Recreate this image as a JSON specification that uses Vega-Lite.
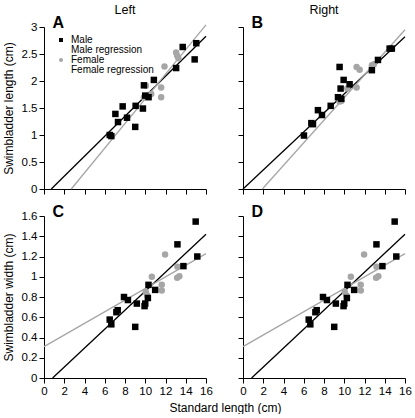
{
"$schema":"https://vega.github.io/schema/vega-lite/v6.json",
"padding":{"left":2,"top":3,"right":0,"bottom":0},
"config":{"font":"Liberation Sans","view":{"stroke":null},
 "axis":{"grid":false,"domainColor":"black","tickColor":"black","labelColor":"black","titleColor":"black","labelFontSize":11.5,"titleFontSize":12,"titleFontWeight":"normal","tickSize":5,"labelPadding":2,"titlePadding":6,"labelFlush":false,"labelOverlap":false,"labelFont":"Liberation Sans","titleFont":"Liberation Sans"},
 "title":{"fontSize":12.5,"fontWeight":"normal","font":"Liberation Sans","color":"black","offset":-2}},
"datasets":{
 "points":[
  {"panel":"A","sex":"Female","sl":9.87,"val":1.70},{"panel":"A","sex":"Female","sl":10.06,"val":1.91},{"panel":"A","sex":"Female","sl":10.59,"val":1.76},{"panel":"A","sex":"Female","sl":11.57,"val":1.88},{"panel":"A","sex":"Female","sl":11.57,"val":1.70},{"panel":"A","sex":"Female","sl":11.9,"val":2.27},{"panel":"A","sex":"Female","sl":13.05,"val":2.53},{"panel":"A","sex":"Female","sl":13.15,"val":2.47},{"panel":"A","sex":"Female","sl":13.27,"val":2.42},
  {"panel":"A","sex":"Male","sl":6.49,"val":1.00},{"panel":"A","sex":"Male","sl":6.65,"val":0.98},{"panel":"A","sex":"Male","sl":7.05,"val":1.39},{"panel":"A","sex":"Male","sl":7.31,"val":1.24},{"panel":"A","sex":"Male","sl":7.77,"val":1.53},{"panel":"A","sex":"Male","sl":8.2,"val":1.32},{"panel":"A","sex":"Male","sl":9.01,"val":1.15},{"panel":"A","sex":"Male","sl":9.05,"val":1.54},{"panel":"A","sex":"Male","sl":9.77,"val":1.49},{"panel":"A","sex":"Male","sl":9.87,"val":1.92},{"panel":"A","sex":"Male","sl":10.0,"val":1.73},{"panel":"A","sex":"Male","sl":10.33,"val":1.70},{"panel":"A","sex":"Male","sl":10.85,"val":2.02},{"panel":"A","sex":"Male","sl":13.05,"val":2.24},{"panel":"A","sex":"Male","sl":13.7,"val":2.63},{"panel":"A","sex":"Male","sl":14.88,"val":2.40},{"panel":"A","sex":"Male","sl":15.04,"val":2.70},
  {"panel":"B","sex":"Female","sl":9.54,"val":1.62},{"panel":"B","sex":"Female","sl":9.71,"val":1.63},{"panel":"B","sex":"Female","sl":10.3,"val":1.86},{"panel":"B","sex":"Female","sl":11.22,"val":2.26},{"panel":"B","sex":"Female","sl":11.52,"val":2.21},{"panel":"B","sex":"Female","sl":11.22,"val":1.88},{"panel":"B","sex":"Female","sl":12.73,"val":2.29},{"panel":"B","sex":"Female","sl":12.93,"val":2.31},
  {"panel":"B","sex":"Male","sl":6.02,"val":0.99},{"panel":"B","sex":"Male","sl":6.75,"val":1.22},{"panel":"B","sex":"Male","sl":6.91,"val":1.20},{"panel":"B","sex":"Male","sl":7.4,"val":1.46},{"panel":"B","sex":"Male","sl":7.8,"val":1.37},{"panel":"B","sex":"Male","sl":8.66,"val":1.54},{"panel":"B","sex":"Male","sl":9.38,"val":1.70},{"panel":"B","sex":"Male","sl":9.71,"val":1.67},{"panel":"B","sex":"Male","sl":9.54,"val":2.26},{"panel":"B","sex":"Male","sl":9.94,"val":2.02},{"panel":"B","sex":"Male","sl":9.64,"val":1.86},{"panel":"B","sex":"Male","sl":10.53,"val":1.94},{"panel":"B","sex":"Male","sl":12.73,"val":2.20},{"panel":"B","sex":"Male","sl":13.33,"val":2.39},{"panel":"B","sex":"Male","sl":14.48,"val":2.60},{"panel":"B","sex":"Male","sl":14.7,"val":2.60},
  {"panel":"C","sex":"Female","sl":11.96,"val":1.22},{"panel":"C","sex":"Female","sl":10.65,"val":1.0},{"panel":"C","sex":"Female","sl":10.22,"val":0.815},{"panel":"C","sex":"Female","sl":10.05,"val":0.85},{"panel":"C","sex":"Female","sl":11.63,"val":0.92},{"panel":"C","sex":"Female","sl":11.63,"val":0.865},{"panel":"C","sex":"Female","sl":13.18,"val":1.10},{"panel":"C","sex":"Female","sl":13.15,"val":0.99},{"panel":"C","sex":"Female","sl":13.37,"val":1.005},
  {"panel":"C","sex":"Male","sl":14.98,"val":1.545},{"panel":"C","sex":"Male","sl":13.18,"val":1.32},{"panel":"C","sex":"Male","sl":15.14,"val":1.20},{"panel":"C","sex":"Male","sl":13.77,"val":1.105},{"panel":"C","sex":"Male","sl":10.32,"val":0.92},{"panel":"C","sex":"Male","sl":10.98,"val":0.87},{"panel":"C","sex":"Male","sl":7.9,"val":0.80},{"panel":"C","sex":"Male","sl":8.29,"val":0.77},{"panel":"C","sex":"Male","sl":9.17,"val":0.735},{"panel":"C","sex":"Male","sl":10.26,"val":0.79},{"panel":"C","sex":"Male","sl":10.0,"val":0.735},{"panel":"C","sex":"Male","sl":9.93,"val":0.71},{"panel":"C","sex":"Male","sl":7.28,"val":0.67},{"panel":"C","sex":"Male","sl":7.15,"val":0.65},{"panel":"C","sex":"Male","sl":6.49,"val":0.577},{"panel":"C","sex":"Male","sl":6.65,"val":0.53},{"panel":"C","sex":"Male","sl":9.01,"val":0.505},
  {"panel":"D","sex":"Female","sl":11.96,"val":1.22},{"panel":"D","sex":"Female","sl":10.65,"val":1.0},{"panel":"D","sex":"Female","sl":10.22,"val":0.815},{"panel":"D","sex":"Female","sl":10.05,"val":0.85},{"panel":"D","sex":"Female","sl":11.63,"val":0.92},{"panel":"D","sex":"Female","sl":11.63,"val":0.865},{"panel":"D","sex":"Female","sl":13.18,"val":1.10},{"panel":"D","sex":"Female","sl":13.15,"val":0.99},{"panel":"D","sex":"Female","sl":13.37,"val":1.005},
  {"panel":"D","sex":"Male","sl":14.98,"val":1.545},{"panel":"D","sex":"Male","sl":13.18,"val":1.32},{"panel":"D","sex":"Male","sl":15.14,"val":1.20},{"panel":"D","sex":"Male","sl":13.77,"val":1.105},{"panel":"D","sex":"Male","sl":10.32,"val":0.92},{"panel":"D","sex":"Male","sl":10.98,"val":0.87},{"panel":"D","sex":"Male","sl":7.9,"val":0.80},{"panel":"D","sex":"Male","sl":8.29,"val":0.77},{"panel":"D","sex":"Male","sl":9.17,"val":0.735},{"panel":"D","sex":"Male","sl":10.26,"val":0.79},{"panel":"D","sex":"Male","sl":10.0,"val":0.735},{"panel":"D","sex":"Male","sl":9.93,"val":0.71},{"panel":"D","sex":"Male","sl":7.28,"val":0.67},{"panel":"D","sex":"Male","sl":7.15,"val":0.65},{"panel":"D","sex":"Male","sl":6.49,"val":0.577},{"panel":"D","sex":"Male","sl":6.65,"val":0.53},{"panel":"D","sex":"Male","sl":9.01,"val":0.505}
 ],
 "fits":[
  {"panel":"A","sex":"Male","sl":0.72,"val":0},{"panel":"A","sex":"Male","sl":16,"val":2.83},
  {"panel":"A","sex":"Female","sl":2.69,"val":0},{"panel":"A","sex":"Female","sl":16,"val":3.04},
  {"panel":"B","sex":"Male","sl":0,"val":0},{"panel":"B","sex":"Male","sl":16,"val":2.82},
  {"panel":"B","sex":"Female","sl":1.91,"val":0},{"panel":"B","sex":"Female","sl":16,"val":2.95},
  {"panel":"C","sex":"Male","sl":0.85,"val":0},{"panel":"C","sex":"Male","sl":16,"val":1.42},
  {"panel":"C","sex":"Female","sl":0,"val":0.31},{"panel":"C","sex":"Female","sl":16,"val":1.228},
  {"panel":"D","sex":"Male","sl":0.85,"val":0},{"panel":"D","sex":"Male","sl":16,"val":1.42},
  {"panel":"D","sex":"Female","sl":0,"val":0.31},{"panel":"D","sex":"Female","sl":16,"val":1.228}
 ]
},
"columns":2,
"spacing":{"row":27,"column":37},
"bounds":"flush",
"resolve":{"scale":{"x":"independent","y":"independent","color":"independent","shape":"independent"},"axis":{"x":"independent","y":"independent"},"legend":{"color":"independent","shape":"independent"}},
"concat":[
 {"width":162,"height":162,"title":{"text":"Left"},
  "resolve":{"axis":{"x":"independent"}},
  "layer":[
   {"data":{"name":"fits"},"transform":[{"filter":"datum.panel==='A' && datum.sex==='Male'"}],
    "mark":{"type":"line","color":"black","strokeWidth":1.3},
    "encoding":{"x":{"field":"sl","type":"quantitative","scale":{"domain":[0,16],"nice":false},"axis":{"values":[0,2,4,6,8,10,12,14,16],"labels":false,"title":null}},
     "y":{"field":"val","type":"quantitative","scale":{"domain":[0,3],"nice":false},"axis":{"values":[0,0.5,1,1.5,2,2.5,3],"format":"~g","title":"Swimbladder length (cm)"}}}},
   {"data":{"name":"fits"},"transform":[{"filter":"datum.panel==='A' && datum.sex==='Female'"}],
    "mark":{"type":"line","color":"#a6a6a6","strokeWidth":1.3},
    "encoding":{"x":{"field":"sl","type":"quantitative","axis":null},"y":{"field":"val","type":"quantitative","axis":{"values":[0,0.5,1,1.5,2,2.5,3],"format":"~g","title":"Swimbladder length (cm)"}}}},
   {"data":{"name":"points"},"transform":[{"filter":"datum.panel==='A'"}],
    "mark":{"type":"point","filled":true,"opacity":1,"size":42},
    "encoding":{"x":{"field":"sl","type":"quantitative","axis":{"orient":"top","domain":false,"ticks":false,"labels":false,"title":"A","titleFontSize":16,"titleFontWeight":"bold","titleX":8,"titleY":0,"titleAlign":"left","titleBaseline":"alphabetic"}},
     "y":{"field":"val","type":"quantitative","axis":{"values":[0,0.5,1,1.5,2,2.5,3],"format":"~g","title":"Swimbladder length (cm)"}},
     "color":{"field":"sex","type":"nominal","scale":{"domain":["Male","Male regression","Female","Female regression"],"range":["black","black","#a6a6a6","#a6a6a6"]},
      "legend":{"orient":"none","legendX":12,"legendY":8,"title":null,"labelFontSize":10,"labelFont":"Liberation Sans","labelColor":"black","symbolSize":16,"rowPadding":-1,"labelOffset":5,"padding":0,
       "encode":{"symbols":{"update":{"stroke":{"signal":"datum.value==='Male'||datum.value==='Male regression' ? 'black' : '#a6a6a6'"},"fill":{"signal":"datum.value==='Male'||datum.value==='Male regression' ? 'black' : '#a6a6a6'"},"strokeWidth":{"value":1.5},"opacity":{"value":1}}}}}},
     "shape":{"field":"sex","type":"nominal","scale":{"domain":["Male","Male regression","Female","Female regression"],"range":["square","stroke","circle","stroke"]},
      "legend":{"orient":"none","legendX":12,"legendY":8,"title":null,"labelFontSize":10,"labelFont":"Liberation Sans","labelColor":"black","symbolSize":16,"rowPadding":-1,"labelOffset":5,"padding":0,
       "encode":{"symbols":{"update":{"stroke":{"signal":"datum.value==='Male'||datum.value==='Male regression' ? 'black' : '#a6a6a6'"},"fill":{"signal":"datum.value==='Male'||datum.value==='Male regression' ? 'black' : '#a6a6a6'"},"strokeWidth":{"value":1.5},"opacity":{"value":1}}}}}}}}
  ]},
 {"width":162,"height":162,"title":{"text":"Right"},
  "resolve":{"axis":{"x":"independent"}},
  "layer":[
   {"data":{"name":"fits"},"transform":[{"filter":"datum.panel==='B' && datum.sex==='Male'"}],
    "mark":{"type":"line","color":"black","strokeWidth":1.3},
    "encoding":{"x":{"field":"sl","type":"quantitative","scale":{"domain":[0,16],"nice":false},"axis":{"values":[0,2,4,6,8,10,12,14,16],"labels":false,"title":null}},
     "y":{"field":"val","type":"quantitative","scale":{"domain":[0,3],"nice":false},"axis":{"values":[0,0.5,1,1.5,2,2.5,3],"labels":false,"title":null}}}},
   {"data":{"name":"fits"},"transform":[{"filter":"datum.panel==='B' && datum.sex==='Female'"}],
    "mark":{"type":"line","color":"#a6a6a6","strokeWidth":1.3},
    "encoding":{"x":{"field":"sl","type":"quantitative","axis":null},"y":{"field":"val","type":"quantitative","axis":{"values":[0,0.5,1,1.5,2,2.5,3],"labels":false,"title":null}}}},
   {"data":{"name":"points"},"transform":[{"filter":"datum.panel==='B'"}],
    "mark":{"type":"point","filled":true,"opacity":1,"size":42},
    "encoding":{"x":{"field":"sl","type":"quantitative","axis":{"orient":"top","domain":false,"ticks":false,"labels":false,"title":"B","titleFontSize":16,"titleFontWeight":"bold","titleX":8,"titleY":0,"titleAlign":"left","titleBaseline":"alphabetic"}},
     "y":{"field":"val","type":"quantitative","axis":{"values":[0,0.5,1,1.5,2,2.5,3],"labels":false,"title":null}},
     "color":{"field":"sex","type":"nominal","scale":{"domain":["Male","Female"],"range":["black","#a6a6a6"]},"legend":null},
     "shape":{"field":"sex","type":"nominal","scale":{"domain":["Male","Female"],"range":["square","circle"]},"legend":null}}}
  ]},
 {"width":162,"height":162,
  "resolve":{"axis":{"x":"independent"}},
  "layer":[
   {"data":{"name":"fits"},"transform":[{"filter":"datum.panel==='C' && datum.sex==='Male'"}],
    "mark":{"type":"line","color":"black","strokeWidth":1.3},
    "encoding":{"x":{"field":"sl","type":"quantitative","scale":{"domain":[0,16],"nice":false},"axis":{"values":[0,2,4,6,8,10,12,14,16],"title":"Standard length (cm)","titleX":181}},
     "y":{"field":"val","type":"quantitative","scale":{"domain":[0,1.6],"nice":false},"axis":{"values":[0,0.2,0.4,0.6,0.8,1,1.2,1.4,1.6],"format":"~g","title":"Swimbladder width (cm)"}}}},
   {"data":{"name":"fits"},"transform":[{"filter":"datum.panel==='C' && datum.sex==='Female'"}],
    "mark":{"type":"line","color":"#a6a6a6","strokeWidth":1.3},
    "encoding":{"x":{"field":"sl","type":"quantitative","axis":null},"y":{"field":"val","type":"quantitative","axis":{"values":[0,0.2,0.4,0.6,0.8,1,1.2,1.4,1.6],"format":"~g","title":"Swimbladder width (cm)"}}}},
   {"data":{"name":"points"},"transform":[{"filter":"datum.panel==='C'"}],
    "mark":{"type":"point","filled":true,"opacity":1,"size":42},
    "encoding":{"x":{"field":"sl","type":"quantitative","axis":{"orient":"top","domain":false,"ticks":false,"labels":false,"title":"C","titleFontSize":16,"titleFontWeight":"bold","titleX":8,"titleY":0,"titleAlign":"left","titleBaseline":"alphabetic"}},
     "y":{"field":"val","type":"quantitative","axis":{"values":[0,0.2,0.4,0.6,0.8,1,1.2,1.4,1.6],"format":"~g","title":"Swimbladder width (cm)"}},
     "color":{"field":"sex","type":"nominal","scale":{"domain":["Male","Female"],"range":["black","#a6a6a6"]},"legend":null},
     "shape":{"field":"sex","type":"nominal","scale":{"domain":["Male","Female"],"range":["square","circle"]},"legend":null}}}
  ]},
 {"width":162,"height":162,
  "resolve":{"axis":{"x":"independent"}},
  "layer":[
   {"data":{"name":"fits"},"transform":[{"filter":"datum.panel==='D' && datum.sex==='Male'"}],
    "mark":{"type":"line","color":"black","strokeWidth":1.3},
    "encoding":{"x":{"field":"sl","type":"quantitative","scale":{"domain":[0,16],"nice":false},"axis":{"values":[0,2,4,6,8,10,12,14,16],"title":null}},
     "y":{"field":"val","type":"quantitative","scale":{"domain":[0,1.6],"nice":false},"axis":{"values":[0,0.2,0.4,0.6,0.8,1,1.2,1.4,1.6],"labels":false,"title":null}}}},
   {"data":{"name":"fits"},"transform":[{"filter":"datum.panel==='D' && datum.sex==='Female'"}],
    "mark":{"type":"line","color":"#a6a6a6","strokeWidth":1.3},
    "encoding":{"x":{"field":"sl","type":"quantitative","axis":null},"y":{"field":"val","type":"quantitative","axis":{"values":[0,0.2,0.4,0.6,0.8,1,1.2,1.4,1.6],"labels":false,"title":null}}}},
   {"data":{"name":"points"},"transform":[{"filter":"datum.panel==='D'"}],
    "mark":{"type":"point","filled":true,"opacity":1,"size":42},
    "encoding":{"x":{"field":"sl","type":"quantitative","axis":{"orient":"top","domain":false,"ticks":false,"labels":false,"title":"D","titleFontSize":16,"titleFontWeight":"bold","titleX":8,"titleY":0,"titleAlign":"left","titleBaseline":"alphabetic"}},
     "y":{"field":"val","type":"quantitative","axis":{"values":[0,0.2,0.4,0.6,0.8,1,1.2,1.4,1.6],"labels":false,"title":null}},
     "color":{"field":"sex","type":"nominal","scale":{"domain":["Male","Female"],"range":["black","#a6a6a6"]},"legend":null},
     "shape":{"field":"sex","type":"nominal","scale":{"domain":["Male","Female"],"range":["square","circle"]},"legend":null}}}
  ]}
]
}
